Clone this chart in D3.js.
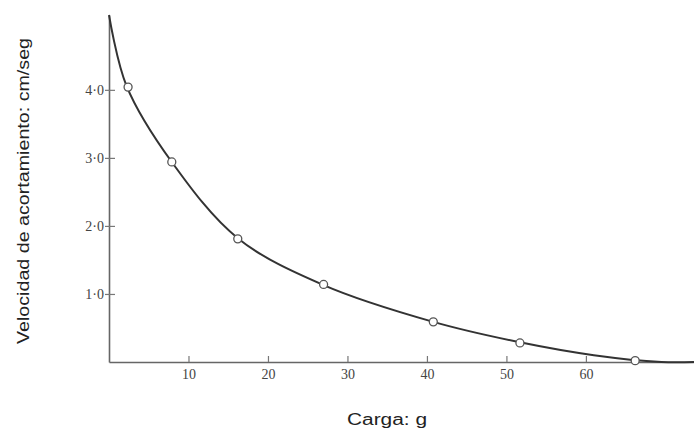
<!DOCTYPE html>
<html>
<head>
<meta charset="utf-8">
<script src="https://cdnjs.cloudflare.com/ajax/libs/d3/7.8.5/d3.min.js"></script>
<style>
  body {margin:0; background:#fff;}
</style>
</head>
<body>
<div id="chart"></div>
<script>
//Size of the svg
var w=694;
var h=430;

//Measured points (load in g, velocity in cm/seg)
var carga=[2.4, 7.9, 16.2, 27.0, 40.8, 51.7, 66.2];
var velocidad=[4.04, 2.94, 1.81, 1.14, 0.59, 0.28, 0.02];

//Fitted curve
var curvaCarga=[0, 2.2, 7.9, 16.2, 27.0, 40.8, 51.7, 61.0, 69.5, 73.6];
var curvaVel=[5.10, 4.06, 2.94, 1.82, 1.13, 0.59, 0.29, 0.10, 0, 0];

//Tick values and labels
var xTicks=[10, 20, 30, 40, 50, 60];
var yTicks=[1, 2, 3, 4];
var yTickLabels=["1·0", "2·0", "3·0", "4·0"];

var svg=d3.select("#chart")
          .append("svg")
          .attr("width",w)
          .attr("height",h);

//Scales
var x=d3.scaleLinear().domain([0,73.6]).range([109,694]);
var y=d3.scaleLinear().domain([0,5.1]).range([362,15]);

//X axis: ticks point up, labels below
var xAxis=svg.append("g")
             .attr("transform","translate(0,"+y(0)+")")
             .call(d3.axisBottom(x).tickValues(xTicks).tickSize(-6).tickPadding(5).tickSizeOuter(0));
xAxis.select(".domain").attr("stroke","#666").attr("stroke-width",1.6);
xAxis.selectAll(".tick line").attr("stroke","#777").attr("stroke-width",1.2);
xAxis.selectAll(".tick text")
     .attr("y",6)
     .attr("dy","0.75em")
     .style("font-family","'Liberation Serif', serif")
     .style("font-size","14px")
     .style("fill","#444");

//Y axis
var yAxis=svg.append("g")
             .attr("transform","translate("+x(0)+",0)")
             .call(d3.axisLeft(y).tickValues(yTicks)
                     .tickFormat(function(d,i) {return yTickLabels[i];})
                     .tickSize(4).tickPadding(2).tickSizeOuter(0));
yAxis.select(".domain").attr("stroke","#666").attr("stroke-width",1.6);
yAxis.selectAll(".tick line").attr("x2",6).attr("x1",-4).attr("stroke","#777").attr("stroke-width",1.2);
yAxis.selectAll(".tick text")
     .attr("x",-5)
     .style("font-family","'Liberation Serif', serif")
     .style("font-size","14px")
     .style("fill","#444");

//Curve
var puntos=curvaCarga.map(function(d,i) {return [d,curvaVel[i]];});
var line=d3.line()
           .x(function(d) {return x(d[0]);})
           .y(function(d) {return y(d[1]);})
           .curve(d3.curveCatmullRom.alpha(0.5));
svg.append("path")
   .datum(puntos)
   .attr("d",line)
   .attr("fill","none")
   .attr("stroke","#333")
   .attr("stroke-width",2);

//Data circles
svg.append("g")
   .selectAll("circle")
   .data(carga)
   .enter()
   .append("circle")
   .attr("cx",function(d) {return x(d);})
   .attr("cy",function(d,i) {return y(velocidad[i]);})
   .attr("r",4)
   .attr("fill","#fff")
   .attr("stroke","#555")
   .attr("stroke-width",1.3);

//Axis titles
svg.append("text")
   .text("Carga: g")
   .attr("x",387)
   .attr("y",425)
   .attr("text-anchor","middle")
   .attr("textLength",80)
   .attr("lengthAdjust","spacingAndGlyphs")
   .style("font-family","'Liberation Sans', Arial, sans-serif")
   .style("font-size","16px")
   .style("fill","#222");

svg.append("text")
   .text("Velocidad de acortamiento: cm/seg")
   .attr("transform","translate(29,191) rotate(-90)")
   .attr("text-anchor","middle")
   .attr("textLength",306)
   .attr("lengthAdjust","spacingAndGlyphs")
   .style("font-family","'Liberation Sans', Arial, sans-serif")
   .style("font-size","16px")
   .style("fill","#222");
</script>
</body>
</html>
